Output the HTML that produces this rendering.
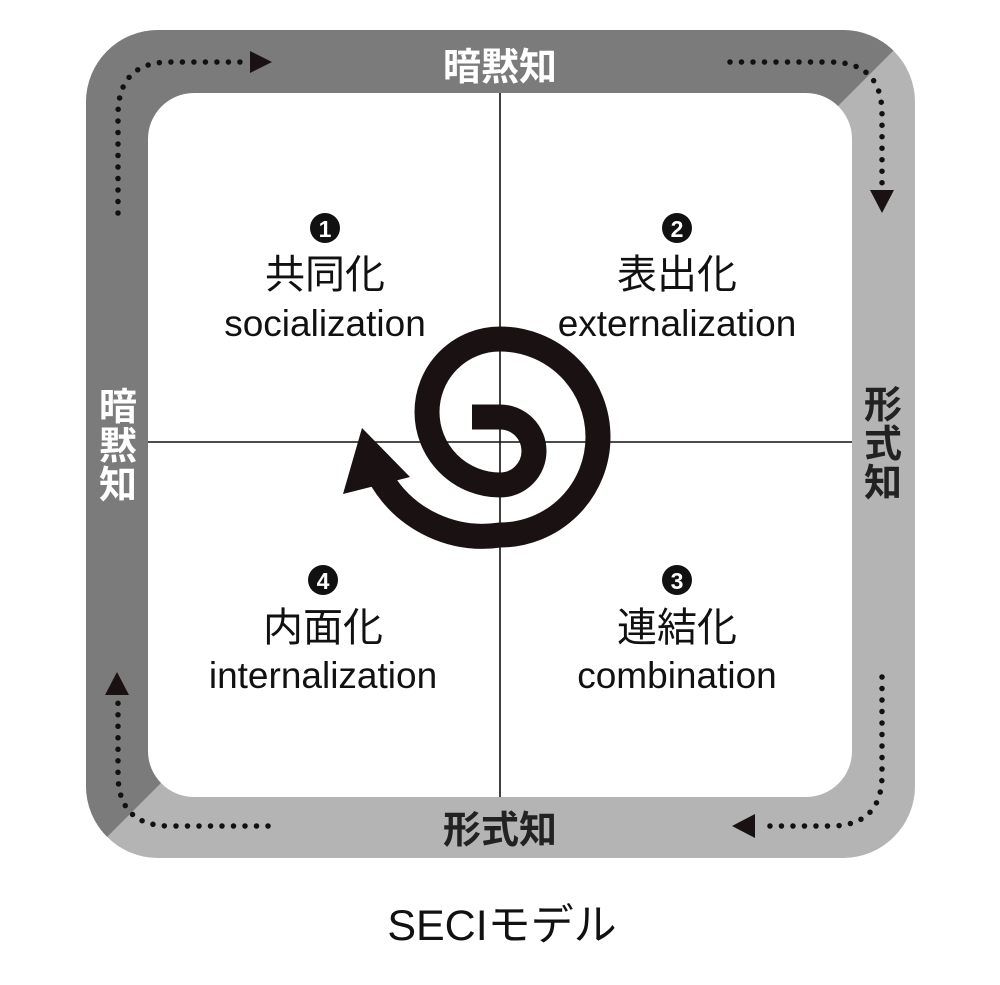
<!DOCTYPE html>
<html><head><meta charset="utf-8"><style>
body{margin:0;background:#fff;width:1000px;height:980px;overflow:hidden}
svg text{font-family:"Liberation Sans","Noto Sans CJK JP",sans-serif}
</style></head><body>
<svg width="1000" height="980" viewBox="0 0 1000 980" xmlns="http://www.w3.org/2000/svg">
<defs>
<clipPath id="fr"><rect x="86" y="30" width="829" height="828" rx="72"/></clipPath>
</defs>
<g clip-path="url(#fr)">
<rect x="0" y="0" width="1000" height="980" fill="#b4b4b4"/>
<polygon points="0,0 944,0 0,944" fill="#7b7b7b"/>
</g>
<rect x="148" y="93" width="704" height="704" rx="46" fill="#fff"/>
<line x1="500" y1="93" x2="500" y2="797" stroke="#111" stroke-width="1.6"/>
<line x1="148" y1="442" x2="852" y2="442" stroke="#111" stroke-width="1.6"/>
<g fill="none" stroke="#111" stroke-width="5.5" stroke-linecap="round" stroke-dasharray="0 11.5">
<path d="M118 213 V115 Q118 62 170 62 H250"/>
<path d="M730 62 H830 Q882 62 882 114 V185"/>
<path d="M882 677 V775 Q882 826 830 826 H765"/>
<path d="M268 826 H170 Q118 826 118 774 V703"/>
</g>
<g fill="#1a1212">
<polygon points="272,62 250,51 250,73"/>
<polygon points="882,213 870,190 894,190"/>
<polygon points="732,826 755,814 755,838"/>
<polygon points="117,672 105,695 129,695"/>
</g>
<text x="500" y="80" font-size="38" font-weight="bold" fill="#fff" text-anchor="middle">暗黙知</text>
<text x="500" y="843" font-size="38" font-weight="bold" fill="#222" text-anchor="middle">形式知</text>
<g font-size="38" font-weight="bold" text-anchor="middle">
<text x="118" y="420" fill="#fff">暗</text><text x="118" y="459" fill="#fff">黙</text><text x="118" y="498" fill="#fff">知</text>
<text x="883" y="418" fill="#222">形</text><text x="883" y="457" fill="#222">式</text><text x="883" y="496" fill="#222">知</text>
</g>
<path d="M472 417 H500 A34 34 0 0 1 500 485 A73 73 0 0 1 500 339 A98 98 0 0 1 500 535 A118 118 0 0 1 382 480" fill="none" stroke="#1a1212" stroke-width="25"/>
<polygon points="362,428 343,494 410,477" fill="#1a1212"/>
<g text-anchor="middle" fill="#111">
<circle cx="325" cy="228" r="15" fill="#111"/><text x="325" y="237" font-size="23" font-weight="bold" fill="#fff">1</text>
<text x="325" y="288" font-size="40">共同化</text>
<text x="325" y="336" font-size="37">socialization</text>
<circle cx="677" cy="228" r="15" fill="#111"/><text x="677" y="237" font-size="23" font-weight="bold" fill="#fff">2</text>
<text x="677" y="288" font-size="40">表出化</text>
<text x="677" y="336" font-size="37">externalization</text>
<circle cx="323" cy="580" r="15" fill="#111"/><text x="323" y="589" font-size="23" font-weight="bold" fill="#fff">4</text>
<text x="323" y="641" font-size="40">内面化</text>
<text x="323" y="688" font-size="37">internalization</text>
<circle cx="677" cy="580" r="15" fill="#111"/><text x="677" y="589" font-size="23" font-weight="bold" fill="#fff">3</text>
<text x="677" y="641" font-size="40">連結化</text>
<text x="677" y="688" font-size="37">combination</text>
</g>
<text x="502" y="940" font-size="43" text-anchor="middle" fill="#111">SECIモデル</text>
</svg>
</body></html>
